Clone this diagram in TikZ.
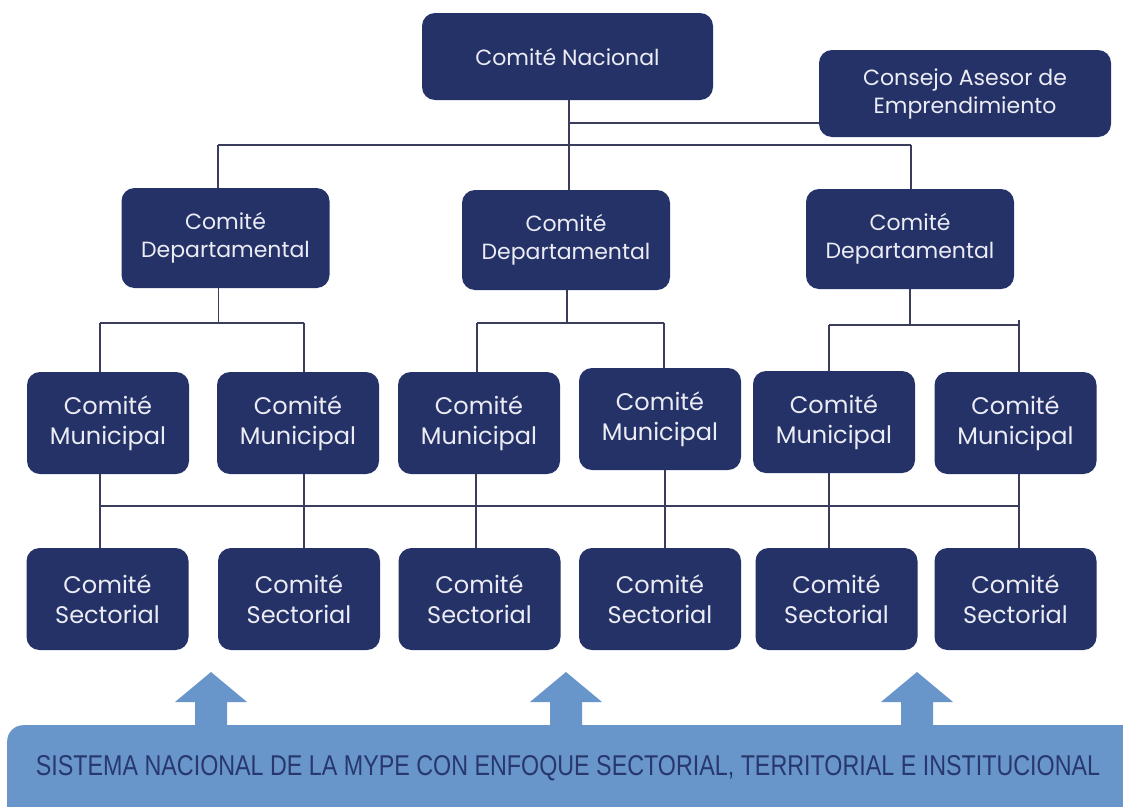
\documentclass[tikz,border=0pt]{standalone}
\usepackage{fontspec}
\setmainfont{Poppins}
\newfontfamily\bannerfont{Liberation Sans}
\definecolor{navy}{RGB}{36,50,104}
\definecolor{boxtext}{RGB}{236,236,244}
\definecolor{linec}{RGB}{58,62,92}
\definecolor{bannerc}{RGB}{104,150,203}
\definecolor{bannertext}{RGB}{40,56,110}
\begin{document}
\begin{tikzpicture}[x=1pt,y=-1pt,
  box/.style={fill=navy, rounded corners=13pt, text=boxtext, align=center, inner sep=0pt,
    font=\fontsize{22}{28}\selectfont},
  bigbox/.style={box, minimum width=162pt, minimum height=102pt, font=\fontsize{24}{30}\selectfont},
  depbox/.style={box, minimum width=208pt, minimum height=100pt},
  conn/.style={draw=linec, line width=1.8pt},
  bannerfill/.style={fill=bannerc}]
\useasboundingbox (0,0) rectangle (1123,806);
\clip (0,0) rectangle (1123,806);
\fill[white] (0,0) rectangle (1123,806);

% top level
\node[box, minimum width=291pt, minimum height=87pt] (nac) at (567.5,56.5) {Comité Nacional};
\node[box, minimum width=292pt, minimum height=87pt] (cons) at (965,93.5) {Consejo Asesor de\\Emprendimiento};

% departmental
\node[depbox] (dep1) at (225.5,238) {Comité\\Departamental};
\node[depbox] (dep2) at (566,240) {Comité\\Departamental};
\node[depbox] (dep3) at (910,239) {Comité\\Departamental};

% municipal
\node[bigbox] (mun1) at (108,423) {Comité\\Municipal};
\node[bigbox] (mun2) at (298,423) {Comité\\Municipal};
\node[bigbox] (mun3) at (479,423) {Comité\\Municipal};
\node[bigbox] (mun4) at (660,419) {Comité\\Municipal};
\node[bigbox] (mun5) at (834,422) {Comité\\Municipal};
\node[bigbox] (mun6) at (1015.5,423) {Comité\\Municipal};

% sectorial
\node[bigbox] (sec1) at (107.5,599) {Comité\\Sectorial};
\node[bigbox] (sec2) at (299,599) {Comité\\Sectorial};
\node[bigbox] (sec3) at (479.5,599) {Comité\\Sectorial};
\node[bigbox] (sec4) at (660,599) {Comité\\Sectorial};
\node[bigbox] (sec5) at (836.5,599) {Comité\\Sectorial};
\node[bigbox] (sec6) at (1015.5,599) {Comité\\Sectorial};

% junction coordinates
\coordinate (jc) at (569,123);
\coordinate (jd) at (569,145);
\coordinate (t1) at (218,145);
\coordinate (t3) at (911,145);
\coordinate (b1) at (218.5,323);
\coordinate (b2) at (567,323);
\coordinate (b3) at (910,325);
\coordinate (m1) at (100,323);
\coordinate (m2) at (304,323);
\coordinate (m3) at (477,323);
\coordinate (m4) at (664,323);
\coordinate (m5) at (829,325);
\coordinate (m6) at (1019,325);
\coordinate (bus1) at (100,506);
\coordinate (bus6) at (1019,506);

% national connectors
\draw[conn] (nac.south -| jc) -- (jc |- dep2.north);
\draw[conn] (jc) -- (jc -| cons.west);
\draw[conn] (t1) -- (t3);
\draw[conn] (t1) -- (t1 |- dep1.north);
\draw[conn] (t3) -- (t3 |- dep3.north);

% departmental to municipal
\draw[conn] (b1 |- dep1.south) -- (b1);
\draw[conn] (m1) -- (m2);
\draw[conn] (m1) -- (m1 |- mun1.north);
\draw[conn] (m2) -- (m2 |- mun2.north);
\draw[conn] (b2 |- dep2.south) -- (b2);
\draw[conn] (m3) -- (m4);
\draw[conn] (m3) -- (m3 |- mun3.north);
\draw[conn] (m4) -- (m4 |- mun4.north);
\draw[conn] (b3 |- dep3.south) -- (b3);
\draw[conn] (m5) -- (m6);
\draw[conn] ([yshift=5pt]m6) -- (m6 |- mun6.north);
\draw[conn] (m5) -- (m5 |- mun5.north);

% municipal to sectorial
\draw[conn] (bus1) -- (bus6);
\draw[conn] (m1 |- mun1.south) -- (m1 |- sec1.north);
\draw[conn] (m2 |- mun2.south) -- (m2 |- sec2.north);
\draw[conn] (476,0 |- mun3.south) -- (476,0 |- sec3.north);
\draw[conn] (665,0 |- mun4.south) -- (665,0 |- sec4.north);
\draw[conn] (m5 |- mun5.south) -- (m5 |- sec5.north);
\draw[conn] (m6 |- mun6.south) -- (m6 |- sec6.north);

% banner and arrows
\node[bannerfill, rounded corners=16pt, minimum width=1150pt, minimum height=120pt,
  anchor=north west, inner sep=0pt] (sys) at (7,725) {};
\foreach \ax in {211,566,917}{
  \fill[bannerc] (\ax-16,730) -- (\ax-16,702) -- (\ax-36,702) -- (\ax,672)
    -- (\ax+36,702) -- (\ax+16,702) -- (\ax+16,730) -- cycle;
}
\node[text=bannertext, inner sep=0pt, anchor=base] (systext) at (568,775)
  {\resizebox{1064pt}{20pt}{\bannerfont SISTEMA NACIONAL DE LA MYPE CON ENFOQUE SECTORIAL, TERRITORIAL E INSTITUCIONAL}};
\end{tikzpicture}
\end{document}
